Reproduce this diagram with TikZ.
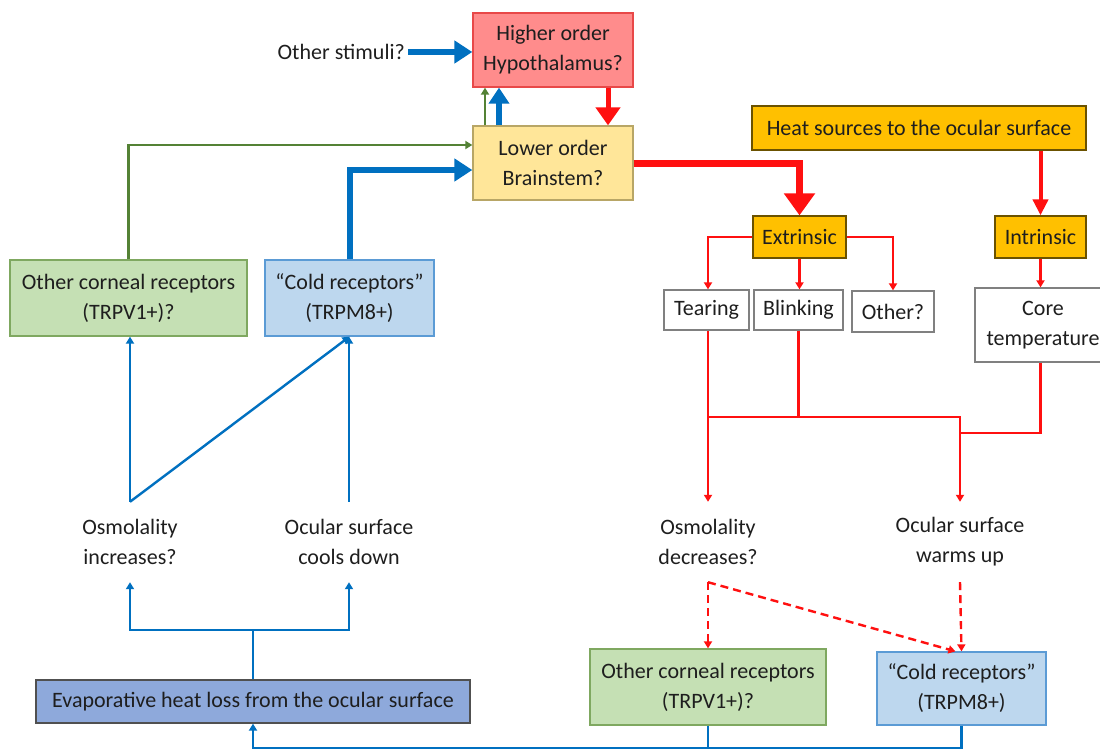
\documentclass[tikz,border=0pt]{standalone}
\usepackage{fontspec}
\setmainfont{Carlito}
\usetikzlibrary{arrows.meta,calc}
\definecolor{myred}{HTML}{FF1010}
\definecolor{myblue}{HTML}{0070C0}
\definecolor{mygreen}{HTML}{548235}
\definecolor{txt}{HTML}{1E1E1E}
\definecolor{pinkfill}{HTML}{FF8C8C}
\definecolor{pinkdraw}{HTML}{E84848}
\definecolor{yelfill}{HTML}{FFE699}
\definecolor{yeldraw}{HTML}{B8A666}
\definecolor{orfill}{HTML}{FFC000}
\definecolor{ordraw}{HTML}{6B5200}
\definecolor{grfill}{HTML}{C5E0B4}
\definecolor{grdraw}{HTML}{7FA860}
\definecolor{blfill}{HTML}{BDD7EE}
\definecolor{bldraw}{HTML}{5B9BD5}
\definecolor{evfill}{HTML}{8EA9DB}
\definecolor{evdraw}{HTML}{505050}
\begin{document}
\begin{tikzpicture}[x=1pt,y=-1pt,
  box/.style={draw,line width=1.3pt,inner sep=0pt,align=center,text=txt,
    font=\fontsize{22}{30}\selectfont},
  lbl/.style={inner sep=0pt,align=center,text=txt,minimum height=80pt,
    font=\fontsize{22}{30}\selectfont},
  thinhead/.style={-{Triangle[length=7pt,width=8pt]}},
  rthin/.style={draw=myred,line width=2.4pt},
  bthin/.style={draw=myblue,line width=2.4pt},
  gthin/.style={draw=mygreen,line width=2.4pt},
  bthick/.style={draw=myblue,line width=6pt,-{Triangle[length=18pt,width=22pt]}},
  rdash/.style={draw=myred,line width=2.4pt,dash pattern=on 8pt off 5pt}
]
\useasboundingbox[fill=white] (0,0) rectangle (1100,752);

% boxes
\node[box,fill=pinkfill,draw=pinkdraw,minimum width=160pt,minimum height=74pt] (hyp) at (553,50) {Higher order\\Hypothalamus?};
\node[box,fill=yelfill,draw=yeldraw,minimum width=160pt,minimum height=74pt] (lo) at (553,163) {Lower order\\Brainstem?};
\node[inner sep=3pt,text=txt,font=\fontsize{22}{30}\selectfont,anchor=east] (os) at (408,52) {Other stimuli?};

\node[box,fill=orfill,draw=ordraw,minimum width=334pt,minimum height=44pt] (heat) at (919,128) {Heat sources to the ocular surface};
\node[box,fill=orfill,draw=ordraw,minimum width=93pt,minimum height=42pt] (ext) at (799.5,237) {Extrinsic};
\node[box,fill=orfill,draw=ordraw,minimum width=91pt,minimum height=42pt] (intr) at (1040.5,237) {Intrinsic};

\node[box,fill=white,draw=gray,minimum width=85pt,minimum height=40pt] (tear) at (706.5,310) {Tearing};
\node[box,fill=white,draw=gray,minimum width=89pt,minimum height=40pt] (blink) at (798.5,310) {Blinking};
\node[box,fill=white,draw=gray,minimum width=82pt,minimum height=41pt] (oth) at (893,311.5) {Other?};
\node[box,fill=white,draw=gray,minimum width=136pt,minimum height=74pt] (core) at (1043,325) {Core\\temperature};

\node[box,fill=grfill,draw=grdraw,minimum width=237pt,minimum height=76pt] (gl) at (128.5,298) {Other corneal receptors\\(TRPV1+)?};
\node[box,fill=blfill,draw=bldraw,minimum width=169pt,minimum height=76pt] (cl) at (349.5,298) {``Cold receptors''\\(TRPM8+)};

\node[lbl] (oi) at (130,542) {Osmolality\\increases?};
\node[lbl] (oc) at (349,542) {Ocular surface\\cools down};
\node[lbl] (od) at (708,542) {Osmolality\\decreases?};
\node[lbl] (ow) at (960,542) {Ocular surface\\warms up};

\node[box,fill=evfill,draw=evdraw,minimum width=434pt,minimum height=43pt] (ev) at (253,701.5) {Evaporative heat loss from the ocular surface};
\node[box,fill=grfill,draw=grdraw,minimum width=236pt,minimum height=76pt] (gr) at (708,687) {Other corneal receptors\\(TRPV1+)?};
\node[box,fill=blfill,draw=bldraw,minimum width=169pt,minimum height=73pt] (cr) at (961.5,688.5) {``Cold receptors''\\(TRPM8+)};

% helper coordinates
\coordinate (gY) at (0,145);
\coordinate (bY) at (0,170);
\coordinate (gx) at (485,0);
\coordinate (bx) at (499,0);
\coordinate (rx) at (608,0);
\coordinate (jY) at (0,417);
\coordinate (kY) at (0,433);
\coordinate (eY) at (0,630);
\coordinate (fY) at (0,748);
\coordinate (crin) at ($(cr.north)+(-6,0)$);

% top connectors
\draw[bthick] (os.east) -- (hyp.west |- os.east);
\draw[gthin,thinhead] (gl.north) |- (lo.west |- gY);
\draw[gthin,thinhead] (lo.north -| gx) -- (hyp.south -| gx);
\draw[bthick] (cl.north) |- (lo.west |- bY);
\draw[bthick,-{Triangle[length=16pt,width=20pt]}] (lo.north -| bx) -- (hyp.south -| bx);
\draw[draw=myred,line width=5pt,-{Triangle[length=18pt,width=24pt]}] (hyp.south -| rx) -- (lo.north -| rx);
\draw[draw=myred,line width=7pt,-{Triangle[length=22pt,width=30pt]}] (lo.east) -| (ext.north);
\draw[draw=myred,line width=4pt,-{Triangle[length=16pt,width=15pt]}] (heat.south -| intr.north) -- (intr.north);

% extrinsic branches
\draw[rthin,thinhead] (ext.west) -| (tear.north -| od.north);
\draw[rthin,thinhead] (ext.south) -- (ext.south |- blink.north);
\draw[rthin,thinhead] (ext.east) -| (oth.north);
\draw[rthin,thinhead] (intr.south) -- (intr.south |- core.north);

% to the outcomes
\draw[rthin,thinhead] (tear.south -| od.north) -- (od.north);
\draw[rthin] (blink.south) -- (blink.south |- jY);
\draw[rthin,thinhead] (od.north |- jY) -| (ow.north);
\draw[rthin] (core.south -| intr.south) |- (ow.north |- kY);

% dashed
\draw[rdash,thinhead] (od.south) -- (gr.north);
\draw[rdash,thinhead] (od.south) -- (crin);
\draw[rdash,thinhead] (ow.south) -- (cr.north);

% left lower blue
\draw[bthin,thinhead] (ev.north) |- (oi.south |- eY) -- (oi.south);
\draw[bthin,thinhead] (ev.north |- eY) -| (oc.south);
\draw[bthin,thinhead] (oi.north) -- (oi.north |- gl.south);
\draw[bthin,thinhead] (oi.north) -- (cl.south);
\draw[bthin,thinhead] (oc.north) -- (oc.north |- cl.south);

% bottom feedback
\draw[bthin,thinhead] (cr.south) |- (ev.south |- fY) -- (ev.south);
\draw[bthin] (gr.south) -- (gr.south |- fY);
\end{tikzpicture}
\end{document}
